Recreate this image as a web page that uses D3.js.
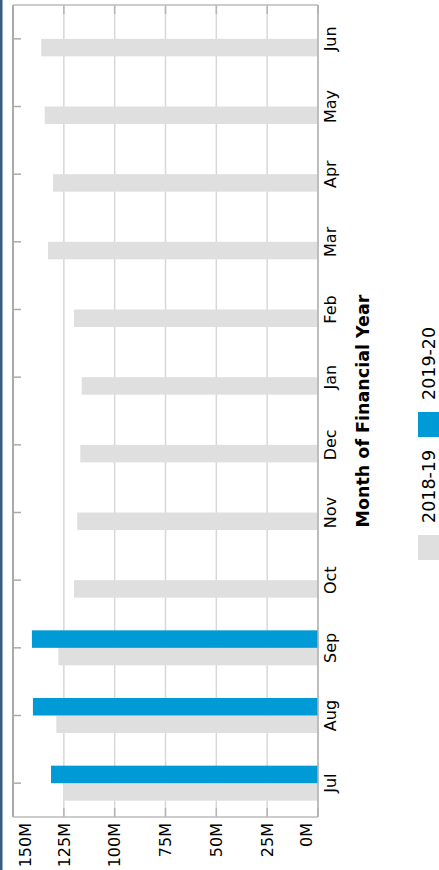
<!DOCTYPE html>
<html>
<head>
<meta charset="utf-8">
<script src="https://cdn.jsdelivr.net/npm/d3@7"></script>
<style>
  html, body { margin: 0; padding: 0; background: #fff; }
  svg { display: block; }
  text { font-family: "DejaVu Sans", Verdana, sans-serif; fill: #000; }
</style>
</head>
<body>
<svg id="chart" width="439" height="870"></svg>
<script>
// ---- data ----
const months = ["Jul","Aug","Sep","Oct","Nov","Dec","Jan","Feb","Mar","Apr","May","Jun"];
const seriesNames = ["2018-19","2019-20"];
const seriesColors = ["#dfdfdf","#009ad6"];
const values2018 = [125.3,128.7,127.7,120.0,118.4,116.9,116.2,120.0,132.8,130.3,134.4,136.1];
const values2019 = [131.3,140.2,140.7,null,null,null,null,null,null,null,null,null];
const tickValues = [0,25,50,75,100,125,150];
const tickLabels = ["0M","25M","50M","75M","100M","125M","150M"];
const axisTitle = "Month of Financial Year";

// ---- layout (chart drawn in an 870x439 frame, rotated -90deg) ----
const W = 870, H = 439;
const plot = {left: 53, right: 865, top: 13, bottom: 318};

const svg = d3.select("#chart");
const g = svg.append("g").attr("transform", `translate(0,${W}) rotate(-90)`);

// top strip
g.append("rect").attr("x", 0).attr("y", 0).attr("width", W).attr("height", 2.5).attr("fill", "#365d82");

const x = d3.scaleBand().domain(months).range([plot.left, plot.right]).paddingInner(0).paddingOuter(0);
const y = d3.scaleLinear().domain([0,150]).range([plot.bottom, plot.top]);
const barW = 17.5;
const xs = d3.scaleBand().domain(seriesNames).range([-barW, barW]);

// gridlines
g.append("g").selectAll("line").data(tickValues).join("line")
  .attr("x1", plot.left).attr("x2", plot.right)
  .attr("y1", d => y(d)).attr("y2", d => y(d))
  .attr("stroke", "#d8d8d8").attr("stroke-width", 1.5);

// value tick marks (inner, both sides)
g.append("g").selectAll("line").data(tickValues).join("line")
  .attr("x1", plot.left).attr("x2", plot.left + 9)
  .attr("y1", d => y(d)).attr("y2", d => y(d))
  .attr("stroke", "#b5b5b5").attr("stroke-width", 1.5);
g.append("g").selectAll("line").data(tickValues).join("line")
  .attr("x1", plot.right - 9).attr("x2", plot.right)
  .attr("y1", d => y(d)).attr("y2", d => y(d))
  .attr("stroke", "#b5b5b5").attr("stroke-width", 1.5);

// frame
g.append("line").attr("x1", plot.left).attr("x2", plot.right).attr("y1", plot.top).attr("y2", plot.top)
  .attr("stroke", "#aaa").attr("stroke-width", 2);
g.append("line").attr("x1", plot.left).attr("x2", plot.left).attr("y1", plot.top).attr("y2", plot.bottom)
  .attr("stroke", "#bbb").attr("stroke-width", 1.5);
g.append("line").attr("x1", plot.right).attr("x2", plot.right).attr("y1", plot.top).attr("y2", plot.bottom)
  .attr("stroke", "#bbb").attr("stroke-width", 1.5);

// category ticks at top edge
g.append("g").selectAll("line").data(months).join("line")
  .attr("x1", d => x(d) + x.bandwidth()/2).attr("x2", d => x(d) + x.bandwidth()/2)
  .attr("y1", plot.top).attr("y2", plot.top + 8)
  .attr("stroke", "#aaa").attr("stroke-width", 1.5);

// bars
const rows = months.map((m,i) => ({m, vals: [values2018[i], values2019[i]]}));
const groups = g.append("g").selectAll("g").data(rows).join("g")
  .attr("transform", d => `translate(${x(d.m) + x.bandwidth()/2},0)`);
groups.selectAll("rect")
  .data(d => d.vals.map((v,j) => ({v, s: seriesNames[j], c: seriesColors[j]})).filter(e => e.v != null))
  .join("rect")
  .attr("x", e => xs(e.s)).attr("width", xs.bandwidth())
  .attr("y", e => y(e.v)).attr("height", e => y(0) - y(e.v))
  .attr("fill", e => e.c);

// baseline (0M)
g.append("line").attr("x1", plot.left).attr("x2", plot.right).attr("y1", plot.bottom).attr("y2", plot.bottom)
  .attr("stroke", "#b0b0b0").attr("stroke-width", 1.5);

// value labels
g.append("g").selectAll("text").data(tickValues).join("text")
  .attr("x", plot.left - 6)
  .attr("y", d => Math.min(Math.max(y(d), plot.top + 12), plot.bottom - 11.5))
  .attr("dy", "0.36em")
  .attr("text-anchor", "end")
  .attr("font-size", 16)
  .text((d,i) => tickLabels[i]);

// month labels
g.append("g").selectAll("text").data(months).join("text")
  .attr("x", d => x(d) + x.bandwidth()/2)
  .attr("y", 336)
  .attr("text-anchor", "middle")
  .attr("font-size", 16)
  .text(d => d);

// axis title
g.append("text")
  .attr("x", (plot.left + plot.right)/2)
  .attr("y", 369)
  .attr("text-anchor", "middle")
  .attr("font-size", 17.5)
  .attr("font-weight", "bold")
  .text(axisTitle);

// legend
const legendX = [310, 433];
const leg = g.append("g").selectAll("g").data(seriesNames).join("g")
  .attr("transform", (d,i) => `translate(${legendX[i]},418)`);
leg.append("rect").attr("width", 25).attr("height", 25).attr("fill", (d,i) => seriesColors[i]);
leg.append("text").attr("x", 37).attr("y", 17).attr("font-size", 17.5).text(d => d);
</script>
</body>
</html>
